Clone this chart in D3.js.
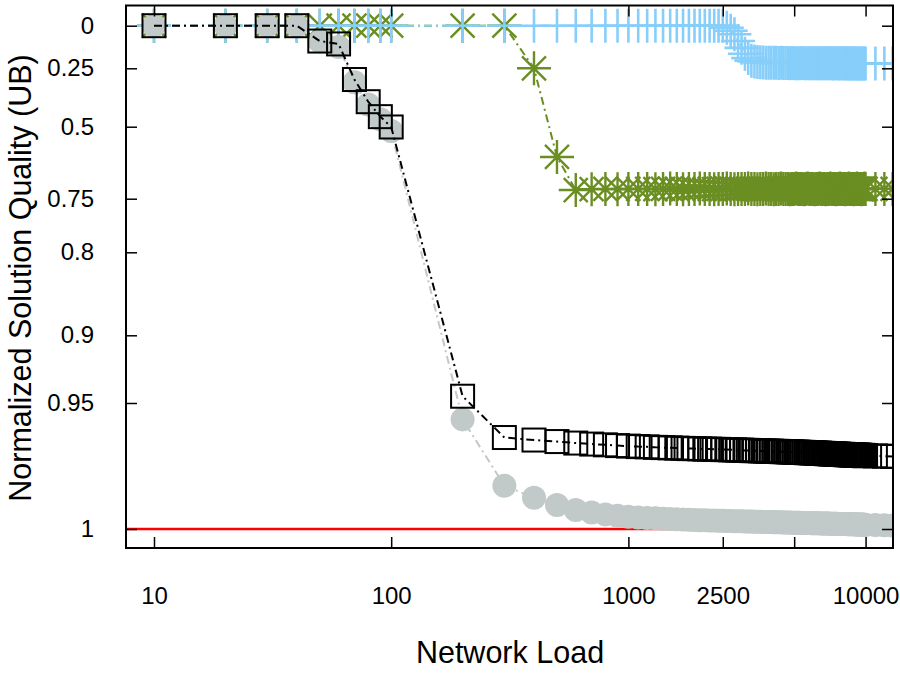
<!DOCTYPE html>
<html><head><meta charset="utf-8">
<script src="https://cdn.jsdelivr.net/npm/d3@7"></script>
<style>
body{margin:0;background:#fff}
svg{display:block}
text{font-family:"Liberation Sans",Arial,Helvetica,sans-serif;fill:#000}
</style>
</head><body>
<svg id="chart" width="900" height="675"></svg>
<script>
// ---------------- data ----------------
const xValues = [10,20,30,40,50,60,70,80,90,100,
 200,300,400,500,600,700,800,900,1000,1100,
 1200,1300,1400,1500,1600,1700,1800,1900,2000,2100,
 2200,2300,2400,2500,2600,2700,2800,2900,3000,3100,
 3200,3300,3400,3500,3600,3700,3800,3900,4000,4100,
 4200,4300,4400,4500,4600,4700,4800,4900,5000,5100,
 5200,5300,5400,5500,5600,5700,5800,5900,6000,6100,
 6200,6300,6400,6500,6600,6700,6800,6900,7000,7100,
 7200,7300,7400,7500,7600,7700,7800,7900,8000,8100,
 8200,8300,8400,8500,8600,8700,8800,8900,9000,9100,
 9200,9300,9400,9500,9600,9700,9800,9900,10000,11000,
 12000,13000];

// light blue "+" series
const plusValues = [0,0,0,0,0,0,0,0,0,0,
 0,0,0,0,0,0,0,0,0,0,
 0,0,0,0,0,0,0,0,0,0,
 0,0,0,0,0.012,0.03,0.05,0.09,0.13,0.165,
 0.19,0.205,0.21,0.213,0.215,0.216,0.217,0.217,0.218,0.218,
 0.218,0.219,0.218,0.219,0.219,0.219,0.22,0.219,0.22,0.22,
 0.22,0.22,0.219,0.22,0.22,0.221,0.22,0.22,0.221,0.22,
 0.221,0.221,0.22,0.221,0.221,0.221,0.22,0.221,0.221,0.221,
 0.221,0.222,0.221,0.221,0.221,0.222,0.221,0.221,0.222,0.221,
 0.222,0.221,0.222,0.222,0.221,0.222,0.222,0.222,0.221,0.222,
 0.222,0.222,0.222,0.222,0.222,0.222,0.222,0.222,0.222,0.222,
 0.222,0.222];

// olive "*" series
const asteriskValues = [0,0,0,0,0,0,0,0,0,0,
 0,0,0.25,0.605,0.72,0.717,0.716,0.717,0.716,0.716,
 0.716,0.717,0.716,0.715,0.716,0.717,0.716,0.716,0.715,0.716,
 0.716,0.717,0.716,0.716,0.715,0.716,0.717,0.716,0.716,0.716,
 0.715,0.716,0.716,0.717,0.716,0.716,0.715,0.716,0.716,0.717,
 0.716,0.716,0.715,0.716,0.716,0.716,0.717,0.716,0.716,0.715,
 0.716,0.716,0.716,0.717,0.716,0.715,0.716,0.716,0.716,0.717,
 0.716,0.716,0.715,0.716,0.716,0.716,0.717,0.716,0.716,0.715,
 0.716,0.716,0.716,0.717,0.716,0.716,0.715,0.716,0.716,0.716,
 0.717,0.716,0.716,0.715,0.716,0.716,0.716,0.717,0.716,0.716,
 0.715,0.716,0.716,0.716,0.717,0.716,0.716,0.715,0.716,0.716,
 0.716,0.716];

// grey circle series
const circleValues = [0,0,0,0,0.092,0.125,0.31,0.405,0.468,0.515,
 0.9565,0.9828,0.9876,0.9905,0.9925,0.9935,0.9942,0.9947,0.9951,0.9954,
 0.9956,0.9957,0.9959,0.996,0.9961,0.9962,0.9963,0.9964,0.9965,0.9965,
 0.9966,0.9966,0.9967,0.9967,0.9968,0.9968,0.9969,0.9969,0.9969,0.997,
 0.997,0.997,0.9971,0.9971,0.9971,0.9972,0.9972,0.9972,0.9972,0.9973,
 0.9973,0.9973,0.9973,0.9974,0.9974,0.9974,0.9974,0.9975,0.9975,0.9975,
 0.9975,0.9975,0.9976,0.9976,0.9976,0.9976,0.9976,0.9977,0.9977,0.9977,
 0.9977,0.9977,0.9977,0.9978,0.9978,0.9978,0.9978,0.9978,0.9978,0.9979,
 0.9979,0.9979,0.9979,0.9979,0.9979,0.998,0.998,0.998,0.998,0.998,
 0.998,0.998,0.9981,0.9981,0.9981,0.9981,0.9981,0.9981,0.9981,0.9982,
 0.9982,0.9982,0.9982,0.9982,0.9982,0.9982,0.9983,0.9983,0.9983,0.9984,
 0.9985,0.9986];

// black square series
const squareValues = [0,0,0,0,0.09,0.107,0.298,0.393,0.457,0.501,
 0.945,0.9637,0.9647,0.9653,0.9659,0.9663,0.9666,0.9669,0.9671,0.9673,
 0.9674,0.9676,0.9677,0.9678,0.9679,0.968,0.9681,0.9681,0.9682,0.9683,
 0.9683,0.9684,0.9684,0.9685,0.9685,0.9686,0.9686,0.9687,0.9687,0.9688,
 0.9688,0.9689,0.9689,0.9689,0.969,0.969,0.9691,0.9691,0.9691,0.9692,
 0.9692,0.9692,0.9693,0.9693,0.9693,0.9694,0.9694,0.9694,0.9695,0.9695,
 0.9695,0.9696,0.9696,0.9696,0.9697,0.9697,0.9697,0.9698,0.9698,0.9698,
 0.9699,0.9699,0.9699,0.97,0.97,0.97,0.9701,0.9701,0.9701,0.9702,
 0.9702,0.9702,0.9702,0.9703,0.9703,0.9703,0.9704,0.9704,0.9704,0.9704,
 0.9705,0.9705,0.9705,0.9705,0.9706,0.9706,0.9706,0.9706,0.9707,0.9707,
 0.9707,0.9707,0.9707,0.9708,0.9708,0.9708,0.9708,0.9709,0.9709,0.971,
 0.9711,0.9712];

const optimalValue = 1;

const xTickValues = [10,100,1000,2500,5000,10000];
const xTickLabels = ["10","100","1000","2500","","10000"];
const yTickValues = [0,0.25,0.5,0.75,0.8,0.9,0.95,1];
const yTickLabels = ["0","0.25","0.5","0.75","0.8","0.9","0.95","1"];

// ---------------- layout ----------------
const plot = {left:126, right:893, top:5.5, bottom:548};
const svg = d3.select("#chart");

const x = d3.scaleLog().domain([7.62,13050]).range([plot.left, plot.right]);
// custom (piecewise) vertical axis, as in the original figure
const y = d3.scaleLinear().domain(yTickValues)
  .range([25.7,68.3,126.7,198.7,252.3,335.3,403,529]);

const clip = svg.append("defs").append("clipPath").attr("id","plotclip")
  .append("rect").attr("x",plot.left).attr("y",plot.top)
  .attr("width",plot.right-plot.left).attr("height",plot.bottom-plot.top);

const g = svg.append("g").attr("clip-path","url(#plotclip)");

const pts = vals => xValues.map((v,i)=>({x:v, y:vals[i]}));
const line = d3.line().x(d=>x(d.x)).y(d=>y(d.y));
const dash = "8,4,2,4";

const blue = "#87cefa", green = "#6b8e23", grey = "#c1c9c9", red = "#ff0000";

// green asterisks
g.append("path").datum(pts(asteriskValues)).attr("d",line)
  .attr("fill","none").attr("stroke",green).attr("stroke-width",2).attr("stroke-dasharray",dash);
g.append("g").selectAll("path").data(pts(asteriskValues)).join("path")
  .attr("transform",d=>`translate(${x(d.x)},${y(d.y)})`)
  .attr("d","M-17,0H17M0,-17V17M-12,-12L12,12M-12,12L12,-12")
  .attr("fill","none").attr("stroke",green).attr("stroke-width",2.4);

// blue pluses
g.append("path").datum(pts(plusValues)).attr("d",line)
  .attr("fill","none").attr("stroke",blue).attr("stroke-width",2).attr("stroke-dasharray",dash);
g.append("g").selectAll("path").data(pts(plusValues)).join("path")
  .attr("transform",d=>`translate(${x(d.x)},${y(d.y)})`)
  .attr("d","M-17,0H17M0,-17V17")
  .attr("fill","none").attr("stroke",blue).attr("stroke-width",2.6);

// optimum red line
g.append("line").attr("x1",plot.left).attr("x2",plot.right)
  .attr("y1",y(optimalValue)).attr("y2",y(optimalValue))
  .attr("stroke",red).attr("stroke-width",2.5);

// grey circles
g.append("path").datum(pts(circleValues)).attr("d",line)
  .attr("fill","none").attr("stroke",grey).attr("stroke-width",2).attr("stroke-dasharray",dash);
g.append("g").selectAll("circle").data(pts(circleValues)).join("circle")
  .attr("cx",d=>x(d.x)).attr("cy",d=>y(d.y)).attr("r",12).attr("fill",grey);

// black squares
g.append("path").datum(pts(squareValues)).attr("d",line)
  .attr("fill","none").attr("stroke","#000").attr("stroke-width",2).attr("stroke-dasharray",dash);
g.append("g").selectAll("rect").data(pts(squareValues)).join("rect")
  .attr("x",d=>x(d.x)-11.5).attr("y",d=>y(d.y)-11.5).attr("width",23).attr("height",23)
  .attr("fill","none").attr("stroke","#000").attr("stroke-width",2);

// ---------------- axes ----------------
const xb = d3.axisBottom(x).tickValues(xTickValues)
  .tickFormat((d,i)=>xTickLabels[i]).tickSizeInner(-11).tickSizeOuter(0).tickPadding(39);
const xt = d3.axisTop(x).tickValues(xTickValues).tickFormat("").tickSizeInner(-11).tickSizeOuter(0);
const yl = d3.axisLeft(y).tickValues(yTickValues)
  .tickFormat((d,i)=>yTickLabels[i]).tickSizeInner(-11).tickSizeOuter(0).tickPadding(32);
const yr = d3.axisRight(y).tickValues(yTickValues).tickFormat("").tickSizeInner(-11).tickSizeOuter(0);

function style(sel){
  sel.select(".domain").remove();
  sel.selectAll(".tick line").attr("stroke","#000").attr("stroke-width",1.5);
  sel.selectAll(".tick text").attr("font-size",24).attr("fill","#000")
    .style("font-family","'Liberation Sans',Arial,sans-serif");
}
svg.append("g").attr("transform",`translate(0,${plot.bottom})`).call(xb).call(style);
svg.append("g").attr("transform",`translate(0,${plot.top})`).call(xt).call(style);
svg.append("g").attr("transform",`translate(${plot.left},0)`).call(yl).call(style);
svg.append("g").attr("transform",`translate(${plot.right},0)`).call(yr).call(style);

svg.append("rect").attr("x",plot.left).attr("y",plot.top)
  .attr("width",plot.right-plot.left).attr("height",plot.bottom-plot.top)
  .attr("fill","none").attr("stroke","#000").attr("stroke-width",2);

// titles
svg.append("text").attr("x",510).attr("y",663).attr("text-anchor","middle")
  .attr("font-size",30.5).text("Network Load");
svg.append("text").attr("transform","translate(31,278) rotate(-90)").attr("text-anchor","middle")
  .attr("font-size",30.5).text("Normalized Solution Quality (UB)");
</script>
</body></html>
